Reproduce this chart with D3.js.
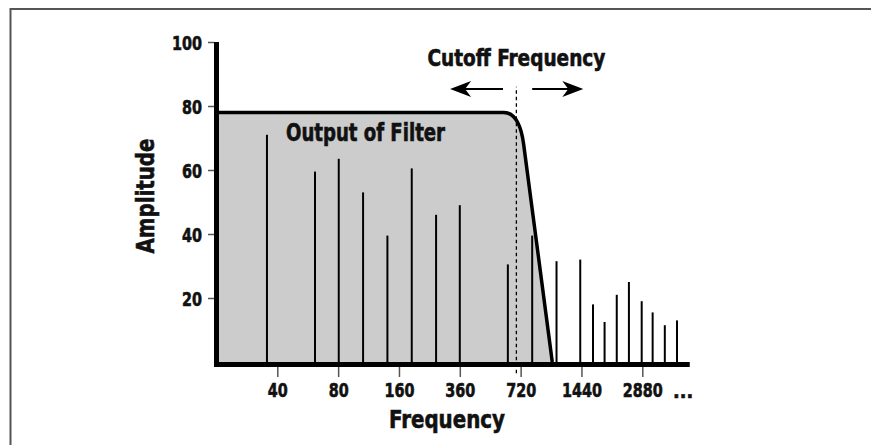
<!DOCTYPE html>
<html>
<head>
<meta charset="utf-8">
<script src="https://cdn.jsdelivr.net/npm/d3@7"></script>
<style>
  body { margin: 0; background: #fff; }
  text { font-family: "DejaVu Sans Condensed", "Liberation Sans", sans-serif; font-weight: bold;
         fill: #111; stroke: #111; stroke-width: 0.6px; }
</style>
</head>
<body>
<svg width="871" height="445"></svg>
<script>
// x axis is in "octave steps": 0 = 40, 1 = 80, ... 6 = 2880
var xTickLabels = ['40', '80', '160', '360', '720', '1440', '2880'];
var yTickValues = [20, 40, 60, 80, 100];

// harmonic spikes: position on octave axis, amplitude
var harmonicPos = [-0.17, 0.62, 1.01, 1.41, 1.81, 2.21, 2.61, 3.0, 3.79, 4.19,
                   4.59, 4.98, 5.19, 5.38, 5.58, 5.78, 5.99, 6.17, 6.37, 6.57];
var harmonicAmp = [71, 59.5, 63.5, 53, 39.5, 60.5, 46, 49, 30.5, 39.5,
                   31.5, 32, 18, 12.5, 21, 25, 19, 15.5, 11.5, 13];

// filter response outline
var filterLevel = 78;
var filterStart = -0.97;
var filterKneeStart = 3.72;
var filterKnee = 3.98;
var filterSlopeTop = [4.05, 68];
var filterZero = 4.52;
var cutoffPos = 3.93;

var svg = d3.select('svg');

var x = d3.scaleLinear().domain([0, 6]).range([277.3, 642.3]);
var y = d3.scaleLinear().domain([0, 100]).range([362, 42]);

// condensed look: squeeze each text to the width seen in the chart
function squeeze(sel, perChar) {
    sel.attr('lengthAdjust', 'spacingAndGlyphs')
       .attr('textLength', function() { return this.textContent.length * perChar; });
}

// frame (top + left only)
svg.append('line').attr('x1', 10).attr('x2', 871).attr('y1', 9).attr('y2', 9)
    .attr('stroke', '#555').attr('stroke-width', 2);
svg.append('line').attr('x1', 10.5).attr('x2', 10.5).attr('y1', 8).attr('y2', 445)
    .attr('stroke', '#555').attr('stroke-width', 2);

// filter fill
var fill = d3.path();
fill.moveTo(x(filterStart), y(0));
fill.lineTo(x(filterStart), y(filterLevel));
fill.lineTo(x(filterKneeStart), y(filterLevel));
fill.quadraticCurveTo(x(filterKnee), y(filterLevel), x(filterSlopeTop[0]), y(filterSlopeTop[1]));
fill.lineTo(x(filterZero), y(0));
fill.closePath();
svg.append('path').attr('d', fill.toString()).attr('fill', '#cccccc');

// spikes
svg.selectAll('.spike')
    .data(harmonicPos)
    .enter()
    .append('line')
    .attr('class', 'spike')
    .attr('x1', function(d) { return x(d); })
    .attr('x2', function(d) { return x(d); })
    .attr('y1', y(0))
    .attr('y2', function(d, i) { return y(harmonicAmp[i]); })
    .attr('stroke', '#000')
    .attr('stroke-width', 2);

// filter outline
var edge = d3.path();
edge.moveTo(x(filterStart), y(filterLevel));
edge.lineTo(x(filterKneeStart), y(filterLevel));
edge.quadraticCurveTo(x(filterKnee), y(filterLevel), x(filterSlopeTop[0]), y(filterSlopeTop[1]));
edge.lineTo(x(filterZero), y(0));
svg.append('path').attr('d', edge.toString())
    .attr('fill', 'none').attr('stroke', '#000').attr('stroke-width', 3.5)
    .attr('stroke-linejoin', 'round');

// cutoff dashed line
svg.append('line')
    .attr('x1', x(cutoffPos)).attr('x2', x(cutoffPos))
    .attr('y1', y(-3.5)).attr('y2', y(86))
    .attr('stroke', '#000').attr('stroke-width', 1.3)
    .attr('stroke-dasharray', '3.5,3');

// arrows
function arrow(from, to, amp) {
    var x0 = x(from), x1 = x(to), yy = y(amp);
    var dir = x1 > x0 ? 1 : -1;
    svg.append('line').attr('x1', x0).attr('x2', x1 - dir * 10).attr('y1', yy).attr('y2', yy)
        .attr('stroke', '#000').attr('stroke-width', 2);
    var p = d3.path();
    p.moveTo(x1, yy);
    p.lineTo(x1 - dir * 21, yy - 8);
    p.lineTo(x1 - dir * 15, yy);
    p.lineTo(x1 - dir * 21, yy + 8);
    p.closePath();
    svg.append('path').attr('d', p.toString()).attr('fill', '#000');
}
arrow(3.71, 2.84, 85.3);
arrow(4.19, 5.03, 85.3);

// axes
var yAxis = svg.append('g')
    .attr('transform', 'translate(214,0)')
    .call(d3.axisLeft(y).tickValues(yTickValues).tickSize(6).tickPadding(6));
yAxis.select('.domain').remove();
yAxis.selectAll('line').attr('stroke', '#555').attr('stroke-width', 1.5);
yAxis.selectAll('text').attr('font-size', 20).attr('dy', '0.36em');

var xAxis = svg.append('g')
    .attr('transform', 'translate(0,367)')
    .call(d3.axisBottom(x).tickValues(d3.range(xTickLabels.length))
        .tickFormat(function(d) { return xTickLabels[d]; })
        .tickSize(10).tickPadding(6));
xAxis.select('.domain').remove();
xAxis.selectAll('line').attr('stroke', '#555').attr('stroke-width', 1.5);
xAxis.selectAll('text').attr('font-size', 20);
svg.selectAll('.tick text').attr('font-family', null).attr('fill', null).call(squeeze, 10);

svg.append('text').attr('x', x(6.67)).attr('y', 398).attr('text-anchor', 'middle')
    .attr('font-size', 20).text('...').call(squeeze, 6.7);

// thick axis bars
svg.append('line').attr('x1', 216.5).attr('x2', 216.5).attr('y1', y(100)).attr('y2', 367)
    .attr('stroke', '#000').attr('stroke-width', 5);
svg.append('line').attr('x1', 214).attr('x2', x(6.78)).attr('y1', 364.5).attr('y2', 364.5)
    .attr('stroke', '#000').attr('stroke-width', 5);

// labels
svg.append('text').attr('x', x(cutoffPos)).attr('y', 66).attr('text-anchor', 'middle')
    .attr('font-size', 23).attr('textLength', 178).attr('lengthAdjust', 'spacingAndGlyphs')
    .text('Cutoff Frequency');
svg.append('text').attr('x', 286).attr('y', 141)
    .attr('font-size', 24).attr('textLength', 159).attr('lengthAdjust', 'spacingAndGlyphs')
    .text('Output of Filter');
svg.append('text').attr('x', 447).attr('y', 428).attr('text-anchor', 'middle')
    .attr('font-size', 25).attr('textLength', 116).attr('lengthAdjust', 'spacingAndGlyphs')
    .text('Frequency');
svg.append('text').attr('transform', 'translate(154,196) rotate(-90)').attr('text-anchor', 'middle')
    .attr('font-size', 25).attr('textLength', 115).attr('lengthAdjust', 'spacingAndGlyphs')
    .text('Amplitude');
</script>
</body>
</html>
